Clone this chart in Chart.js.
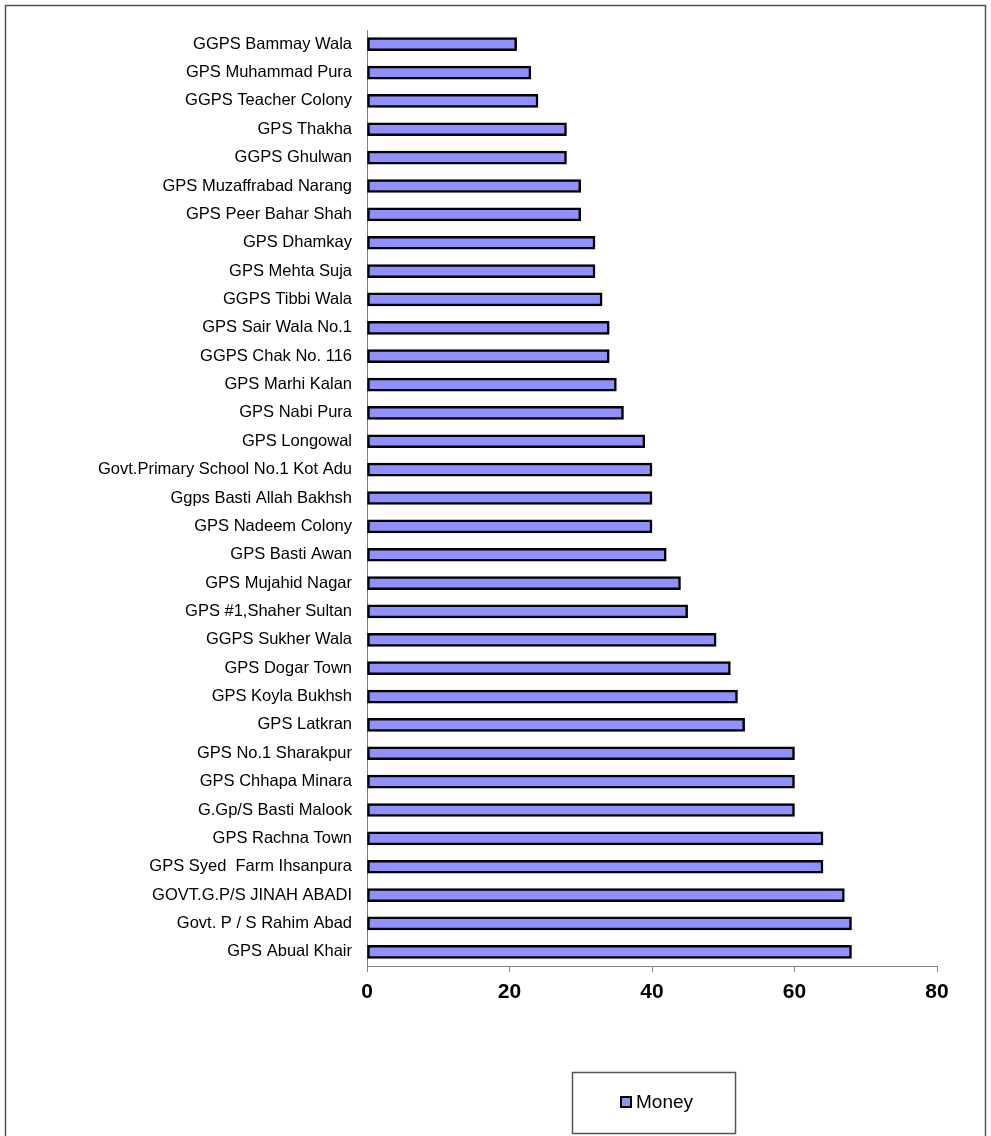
<!DOCTYPE html>
<html>
<head>
<meta charset="utf-8">
<script src="https://cdn.jsdelivr.net/npm/chart.js@4"></script>
<style>
  html, body { margin: 0; padding: 0; background: #fff; }
  canvas { display: block; }
</style>
</head>
<body>
<canvas id="moneyChart" width="991" height="1136"></canvas>
<script>
// schools, top to bottom as in the picture
const schools = [
  'GGPS Bammay Wala',
  'GPS Muhammad Pura',
  'GGPS Teacher Colony',
  'GPS Thakha',
  'GGPS Ghulwan',
  'GPS Muzaffrabad Narang',
  'GPS Peer Bahar Shah',
  'GPS Dhamkay',
  'GPS Mehta Suja',
  'GGPS Tibbi Wala',
  'GPS Sair Wala No.1',
  'GGPS Chak No. 116',
  'GPS Marhi Kalan',
  'GPS Nabi Pura',
  'GPS Longowal',
  'Govt.Primary School No.1 Kot Adu',
  'Ggps Basti Allah Bakhsh',
  'GPS Nadeem Colony',
  'GPS Basti Awan',
  'GPS Mujahid Nagar',
  'GPS #1,Shaher Sultan',
  'GGPS Sukher Wala',
  'GPS Dogar Town',
  'GPS Koyla Bukhsh',
  'GPS Latkran',
  'GPS No.1 Sharakpur',
  'GPS Chhapa Minara',
  'G.Gp/S Basti Malook',
  'GPS Rachna Town',
  'GPS Syed  Farm Ihsanpura',
  'GOVT.G.P/S JINAH ABADI',
  'Govt. P / S Rahim Abad',
  'GPS Abual Khair'
];

// Money series
const money = [
  21, 23, 24, 28, 28, 30, 30, 32, 32, 33, 34, 34, 35, 36, 39, 40, 40,
  40, 42, 44, 45, 49, 51, 52, 53, 60, 60, 60, 64, 64, 67, 68, 68
];

// x axis ticks
const xTicks = [0, 20, 40, 60, 80];

const seriesName = 'Money';
const barColor = '#9090ff';
const font = 'Liberation Sans, Arial, sans-serif';

//outer frame + boxed legend (Excel style)
const framePlugin = {
  id: 'frame',
  beforeDraw(chart) {
    const ctx = chart.ctx;
    ctx.save();
    ctx.fillStyle = '#fff';
    ctx.fillRect(0, 0, chart.width, chart.height);
    ctx.strokeStyle = '#555';
    ctx.lineWidth = 1.5;
    ctx.strokeRect(5.5, 5.5, 980, 1140);
    ctx.restore();
  },
  afterDraw(chart) {
    const ctx = chart.ctx;
    const area = chart.chartArea;
    const cx = (area.left + area.right) / 2 + 2;
    ctx.save();
    // legend box
    ctx.strokeStyle = '#555';
    ctx.lineWidth = 1.5;
    ctx.strokeRect(cx - 81.5, 1072.5, 163, 61);
    // marker
    ctx.fillStyle = barColor;
    ctx.fillRect(cx - 33, 1097, 10, 10);
    ctx.strokeStyle = '#000';
    ctx.lineWidth = 2;
    ctx.strokeRect(cx - 33, 1097, 10, 10);
    // label
    ctx.fillStyle = '#000';
    ctx.font = '19px ' + font;
    ctx.textBaseline = 'middle';
    ctx.textAlign = 'left';
    ctx.fillText(seriesName, cx - 18, 1103);
    ctx.restore();
  }
};

new Chart('moneyChart', {
  type: 'bar',
  data: {
    labels: schools,
    datasets: [
      {
        label: seriesName,
        data: money,
        backgroundColor: barColor,
        borderColor: '#000',
        borderWidth: 2.5,
        borderSkipped: false,
        barThickness: 13
      }
    ]
  },
  plugins: [framePlugin],
  options: {
    indexAxis: 'y',
    responsive: false,
    animation: false,
    layout: {
      padding: { top: 30, left: 0, right: 54, bottom: 130 }
    },
    plugins: {
      legend: { display: false },
      tooltip: { enabled: false }
    },
    scales: {
      x: {
        min: 0,
        max: 80,
        afterBuildTicks: (scale) => {
          scale.ticks = xTicks.map((v) => ({ value: v }));
        },
        afterFit: (scale) => {
          scale.height = 40;
        },
        border: { color: '#808080', width: 1 },
        grid: {
          drawOnChartArea: false,
          drawTicks: true,
          tickLength: 6,
          color: '#808080'
        },
        ticks: {
          color: '#000',
          padding: 8,
          maxRotation: 0,
          font: { family: font, size: 21, weight: 'bold' }
        }
      },
      y: {
        afterFit: (scale) => {
          scale.width = 367;
        },
        border: { color: '#808080', width: 1 },
        grid: {
          drawOnChartArea: false,
          drawTicks: false
        },
        ticks: {
          color: '#000',
          padding: 15,
          autoSkip: false,
          font: { family: font, size: 16.5 }
        }
      }
    }
  }
});
</script>
</body>
</html>
